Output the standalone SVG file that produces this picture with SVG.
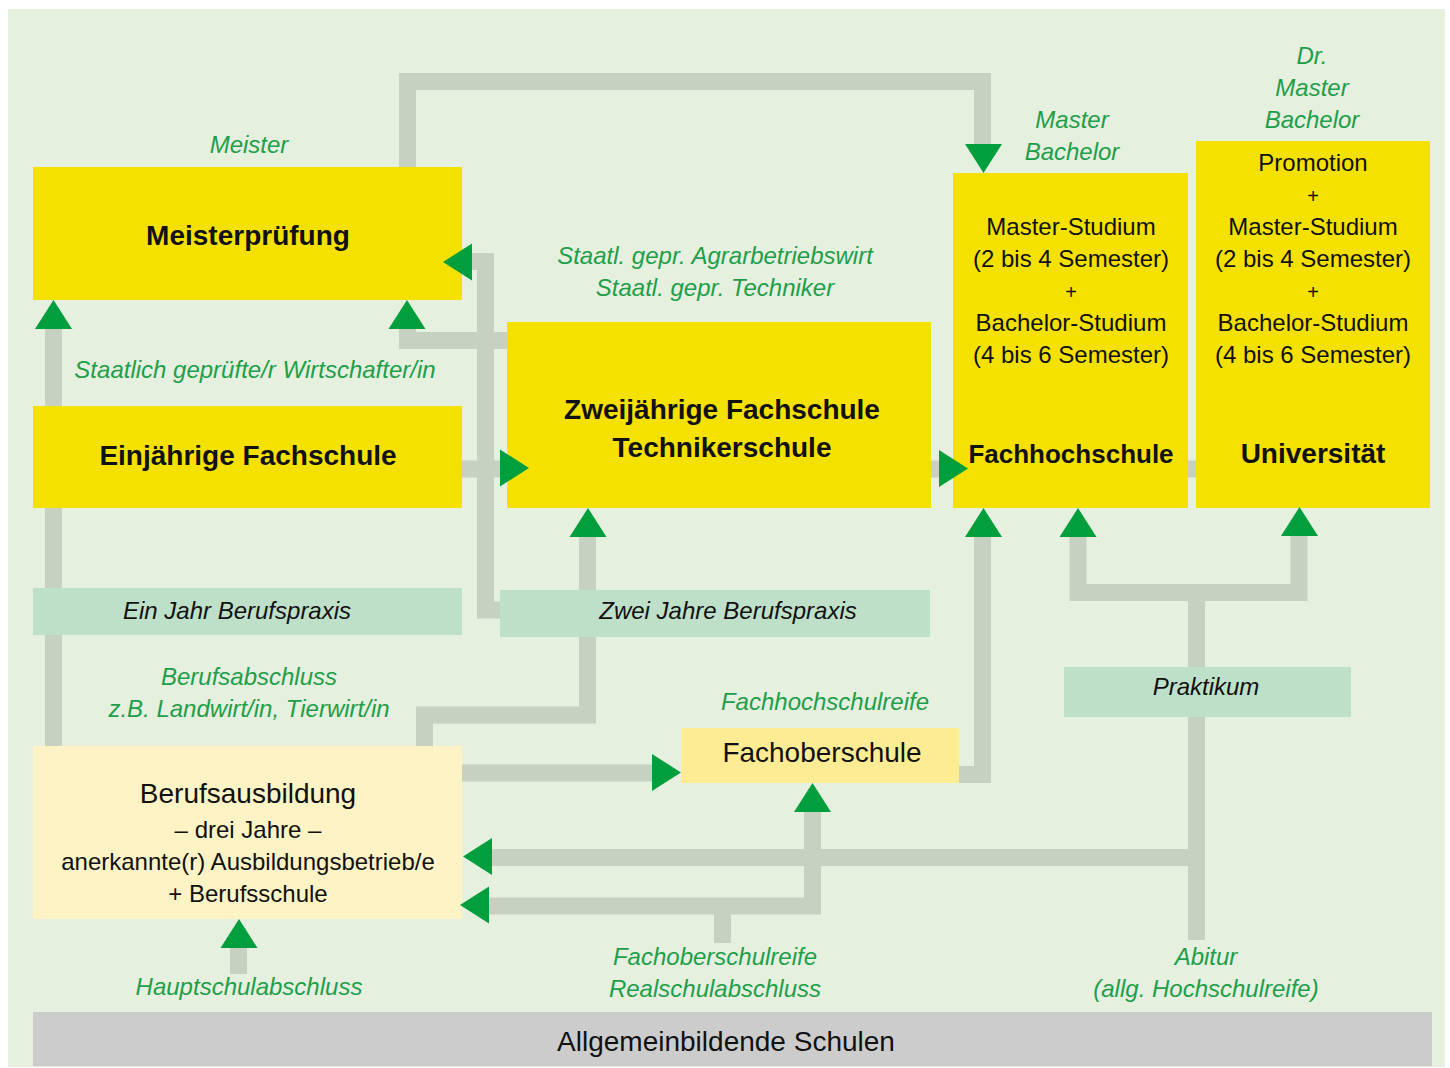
<svg xmlns="http://www.w3.org/2000/svg" xmlns:xlink="http://www.w3.org/1999/xlink" width="1450" height="1068" viewBox="0 0 1450 1068">
<style>
.cn{fill:none;stroke:#c6d1c2;stroke-width:17;stroke-linejoin:miter;stroke-linecap:butt}
.ah{fill:#009e3d}
.yb{fill:#f5e100}
.pb{fill:#bfe0c8}
.t{font-family:"Liberation Sans",Arial,sans-serif;fill:#111;text-anchor:middle}
.b{font-weight:bold;font-size:28px}
.r{font-size:24px}
.big{font-size:28px}
.pl{font-size:20px}
.lab{font-family:"Liberation Sans",Arial,sans-serif;font-style:italic;font-size:24px;fill:#1f9e4a;text-anchor:middle}
.it{font-style:italic;font-size:24px}
</style>
<defs>
<path id="ah" d="M0,0 L18.5,29 L-18.5,29 Z"/>
</defs>
<rect x="0" y="0" width="1450" height="1068" fill="#ffffff"/>
<rect x="8" y="9" width="1437" height="1058" fill="#e5f0df"/>

<g id="connectors">
<path class="cn" d="M407.5,167 V81.5 H982.5 V146"/>
<path class="cn" d="M53.5,746 V328"/>
<path class="cn" d="M462,469 H1196"/>
<path class="cn" d="M500,610 H485.5 V261.5 H470"/>
<path class="cn" d="M507,340.5 H407.5 V328"/>
<path class="cn" d="M424.5,746 V715 H587.5 V535"/>
<path class="cn" d="M462,773 H652"/>
<path class="cn" d="M959,774.5 H982.5 V536"/>
<path class="cn" d="M1196.5,940 V592.5"/>
<path class="cn" d="M1078,536 V592.5 H1299 V535"/>
<path class="cn" d="M1196.5,857.5 H491"/>
<path class="cn" d="M722.5,943 V906"/>
<path class="cn" d="M487,906 H812.5 V810"/>
<path class="cn" d="M238.5,974 V946"/>
</g>

<g id="meisterpruefung">
<rect class="yb" x="33" y="167" width="429" height="133"/>
<text class="t b" x="248" y="245">Meisterprüfung</text>
</g>
<g id="einjaehrige-fachschule">
<rect class="yb" x="33" y="406" width="429" height="102"/>
<text class="t b" x="248" y="465">Einjährige Fachschule</text>
</g>
<g id="zweijaehrige-fachschule">
<rect class="yb" x="507" y="322" width="424" height="186"/>
<text class="t b" x="722" y="419">Zweijährige Fachschule</text>
<text class="t b" x="722" y="457">Technikerschule</text>
</g>
<g id="fachhochschule">
<rect class="yb" x="953" y="173" width="235" height="335"/>
<text class="t r" x="1071" y="235">Master-Studium</text>
<text class="t r" x="1071" y="267">(2 bis 4 Semester)</text>
<text class="t pl" x="1071" y="299">+</text>
<text class="t r" x="1071" y="331">Bachelor-Studium</text>
<text class="t r" x="1071" y="363">(4 bis 6 Semester)</text>
<text class="t b" x="1071" y="463" style="font-size:26px">Fachhochschule</text>
</g>
<g id="universitaet">
<rect class="yb" x="1196" y="141" width="234" height="367"/>
<text class="t r" x="1313" y="171">Promotion</text>
<text class="t pl" x="1313" y="203">+</text>
<text class="t r" x="1313" y="235">Master-Studium</text>
<text class="t r" x="1313" y="267">(2 bis 4 Semester)</text>
<text class="t pl" x="1313" y="299">+</text>
<text class="t r" x="1313" y="331">Bachelor-Studium</text>
<text class="t r" x="1313" y="363">(4 bis 6 Semester)</text>
<text class="t b" x="1313" y="463">Universität</text>
</g>
<g id="ein-jahr-berufspraxis">
<rect class="pb" x="33" y="588" width="429" height="47"/>
<text class="t it" x="237" y="619">Ein Jahr Berufspraxis</text>
</g>
<g id="zwei-jahre-berufspraxis">
<rect class="pb" x="500" y="590" width="430" height="47"/>
<text class="t it" x="728" y="619">Zwei Jahre Berufspraxis</text>
</g>
<g id="praktikum">
<rect class="pb" x="1064" y="667" width="287" height="50"/>
<text class="t it" x="1206" y="695">Praktikum</text>
</g>
<g id="berufsausbildung">
<rect x="33" y="746" width="429" height="173" fill="#fef3c4"/>
<text class="t big" x="248" y="803">Berufsausbildung</text>
<text class="t r" x="248" y="838">– drei Jahre –</text>
<text class="t r" x="248" y="870">anerkannte(r) Ausbildungsbetrieb/e</text>
<text class="t r" x="248" y="902">+ Berufsschule</text>
</g>
<g id="fachoberschule">
<rect x="681" y="728" width="278" height="55" fill="#fdec94"/>
<text class="t big" x="822" y="762">Fachoberschule</text>
</g>
<g id="allgemeinbildende-schulen">
<rect x="33" y="1012" width="1399" height="54" fill="#cccccc"/>
<text class="t big" x="726" y="1051">Allgemeinbildende Schulen</text>
</g>

<g id="connector-arrowheads" class="ah">
<use xlink:href="#ah" transform="translate(983.5,173) rotate(180)"/>
<use xlink:href="#ah" transform="translate(53.5,300)"/>
<use xlink:href="#ah" transform="translate(407,300)"/>
<use xlink:href="#ah" transform="translate(443,262) rotate(-90)"/>
<use xlink:href="#ah" transform="translate(529,468) rotate(90)"/>
<use xlink:href="#ah" transform="translate(968,468.5) rotate(90)"/>
<use xlink:href="#ah" transform="translate(588,508)"/>
<use xlink:href="#ah" transform="translate(681,772.5) rotate(90)"/>
<use xlink:href="#ah" transform="translate(983.5,508)"/>
<use xlink:href="#ah" transform="translate(1078,508)"/>
<use xlink:href="#ah" transform="translate(1299.5,507)"/>
<use xlink:href="#ah" transform="translate(463,856.5) rotate(-90)"/>
<use xlink:href="#ah" transform="translate(460,905) rotate(-90)"/>
<use xlink:href="#ah" transform="translate(812.5,783)"/>
<use xlink:href="#ah" transform="translate(239,919)"/>
</g>

<g id="labels">
<text class="lab" x="249" y="153">Meister</text>
<text class="lab" x="255" y="378">Staatlich geprüfte/r Wirtschafter/in</text>
<text class="lab" x="715" y="264">Staatl. gepr. Agrarbetriebswirt</text>
<text class="lab" x="715" y="296">Staatl. gepr. Techniker</text>
<text class="lab" x="1072" y="128">Master</text>
<text class="lab" x="1072" y="160">Bachelor</text>
<text class="lab" x="1312" y="64">Dr.</text>
<text class="lab" x="1312" y="96">Master</text>
<text class="lab" x="1312" y="128">Bachelor</text>
<text class="lab" x="249" y="685">Berufsabschluss</text>
<text class="lab" x="249" y="717">z.B. Landwirt/in, Tierwirt/in</text>
<text class="lab" x="825" y="710">Fachhochschulreife</text>
<text class="lab" x="715" y="965">Fachoberschulreife</text>
<text class="lab" x="715" y="997">Realschulabschluss</text>
<text class="lab" x="1206" y="965">Abitur</text>
<text class="lab" x="1206" y="997">(allg. Hochschulreife)</text>
<text class="lab" x="249" y="995">Hauptschulabschluss</text>
</g>
</svg>
